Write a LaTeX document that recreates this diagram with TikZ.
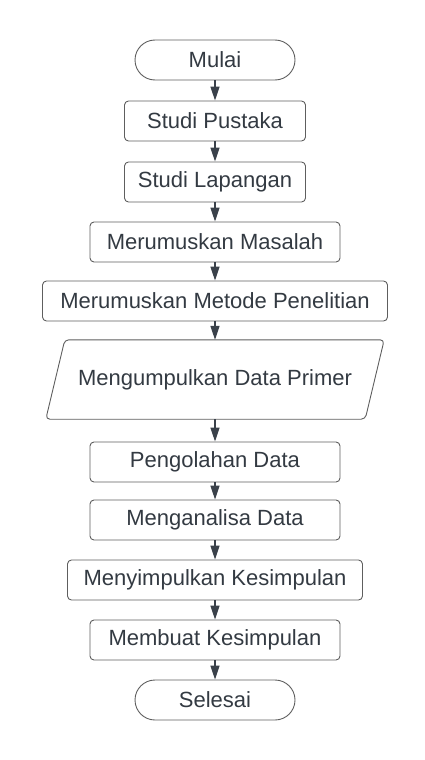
\documentclass[tikz,border=0pt]{standalone}
\usepackage{fontspec}
\setmainfont{Liberation Sans}
\usetikzlibrary{arrows.meta}
\definecolor{boxline}{HTML}{5E5E5E}
\definecolor{arrowcol}{HTML}{3A414A}
\definecolor{textcol}{HTML}{333A42}

\begin{document}
\begin{tikzpicture}[x=1pt, y=-1pt,
    every node/.style={font=\fontsize{22}{26}\selectfont, text=textcol},
    stepbox/.style={draw=boxline, line width=0.9pt, rounded corners=4pt, minimum height=40pt, inner sep=0pt},
    endbox/.style={draw=boxline, line width=0.9pt, rounded corners=20pt, minimum width=160pt, minimum height=40pt},
    databox/.style={minimum width=338pt, minimum height=79pt, inner sep=0pt},
    flow/.style={draw=arrowcol, line width=1.2pt, -{Triangle[width=9pt, length=14pt]}}]
  \useasboundingbox (0,0) rectangle (425,760);
  % Langkah penelitian
  \node[endbox] (mulai) at (215, 60) {Mulai};
  \node[stepbox, minimum width=181pt] (pustaka) at (215, 121) {Studi Pustaka};
  \node[stepbox, minimum width=181pt] (lapangan) at (215, 182) {Studi Lapangan};
  \node[stepbox, minimum width=250pt] (masalah) at (215, 242) {Merumuskan Masalah};
  \node[stepbox, minimum width=345pt] (metode) at (215, 301) {Merumuskan Metode Penelitian};
  \node[databox] (primer) at (215, 379.5) {Mengumpulkan Data Primer};
  \node[stepbox, minimum width=250pt] (olah) at (215, 462) {Pengolahan Data};
  \node[stepbox, minimum width=250pt] (analisa) at (215, 520) {Menganalisa Data};
  \node[stepbox, minimum width=295pt] (simpul) at (215, 580) {Menyimpulkan Kesimpulan};
  \node[stepbox, minimum width=250pt] (buat) at (215, 640) {Membuat Kesimpulan};
  \node[endbox] (selesai) at (215, 700) {Selesai};

  % jajaran genjang data
  \draw[boxline, line width=0.9pt, rounded corners=4pt]
    ([xshift=19pt]primer.north west) -- (primer.north east)
    -- ([xshift=-19pt]primer.south east) -- (primer.south west) -- cycle;

  \draw[flow] (mulai) -- (pustaka);
  \draw[flow] (pustaka) -- (lapangan);
  \draw[flow] (lapangan) -- (masalah);
  \draw[flow] (masalah) -- (metode);
  \draw[flow] (metode) -- (primer);
  \draw[flow] (primer) -- (olah);
  \draw[flow] (olah) -- (analisa);
  \draw[flow] (analisa) -- (simpul);
  \draw[flow] (simpul) -- (buat);
  \draw[flow] (buat) -- (selesai);

\end{tikzpicture}
\end{document}
